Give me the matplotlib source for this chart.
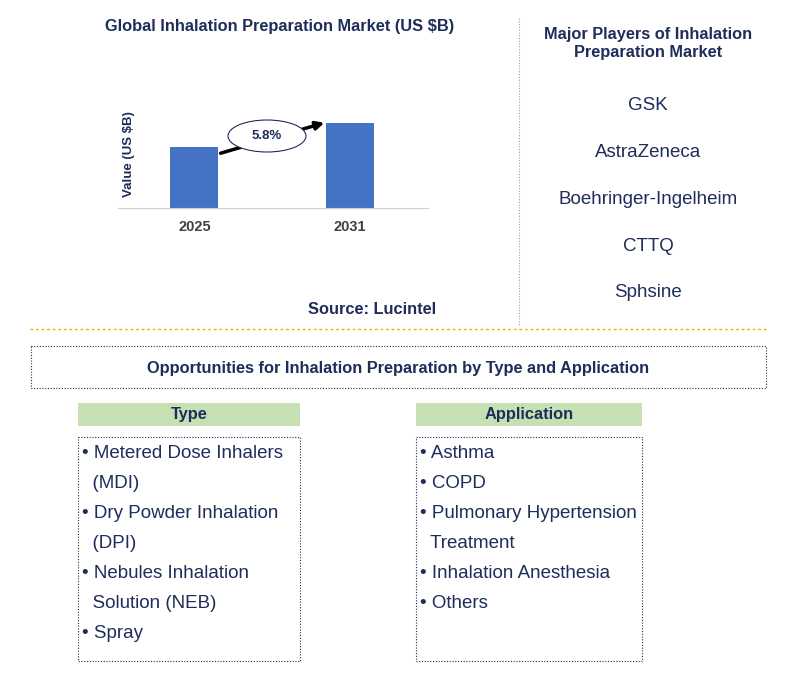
import matplotlib
matplotlib.use("Agg")
import matplotlib.pyplot as plt
from matplotlib.patches import Rectangle, Ellipse

plt.rcParams['font.family'] = 'Liberation Sans'

years = ['2025', '2031']
values = [1.0, 1.4]
cagr = '5.8%'
players = ['GSK', 'AstraZeneca', 'Boehringer-Ingelheim', 'CTTQ', 'Sphsine']
types = ['• Metered Dose Inhalers', '  (MDI)', '• Dry Powder Inhalation', '  (DPI)',
         '• Nebules Inhalation', '  Solution (NEB)', '• Spray']
apps = ['• Asthma', '• COPD', '• Pulmonary Hypertension', '  Treatment',
        '• Inhalation Anesthesia', '• Others']

navy = '#1F2D5A'
W, H = 792, 682
fig = plt.figure(figsize=(7.92, 6.82), dpi=100)

# bar chart
ax = fig.add_axes([118 / W, 1 - 208 / H, 310 / W, 108 / H])
ax.bar([0, 1], values, width=0.31, color='#4472C4')
ax.set_xlim(-0.49, 1.5)
ax.set_ylim(0, 1.4 / 0.79)
ax.set_xticks([0, 1])
ax.set_xticklabels(years, fontsize=10.5, fontweight='bold', color='#404040')
ax.set_yticks([])
for s in ['top', 'right', 'left']:
    ax.spines[s].set_visible(False)
ax.spines['bottom'].set_color('#D0D0D0')
ax.tick_params(axis='x', length=0, pad=9)
ax.set_ylabel('Value (US $B)', fontsize=9.5, fontweight='bold', color=navy, labelpad=-12)

# overlay in pixel coords
ov = fig.add_axes([0, 0, 1, 1])
ov.set_xlim(0, W)
ov.set_ylim(H, 0)
ov.axis('off')
ov.patch.set_alpha(0)
ov.set_zorder(10)

ov.annotate('', xy=(327, 122), xytext=(218, 154),
            arrowprops=dict(arrowstyle='-|>', color='black', lw=2.5, mutation_scale=12))
ov.add_patch(Ellipse((267, 136), 78, 32, facecolor='white', edgecolor=navy, lw=0.8, zorder=5))
ov.text(267, 136, cagr, ha='center', va='center', fontsize=9.5, fontweight='bold', color=navy, zorder=6)

ov.text(280, 27, 'Global Inhalation Preparation Market (US $B)', ha='center', va='center',
        fontsize=11.8, fontweight='bold', color=navy)
ov.text(372, 309, 'Source: Lucintel', ha='center', va='center', fontsize=11.8,
        fontweight='bold', color=navy)

# divider lines
ov.plot([519, 519], [18, 326], color='#A0A0A0', lw=0.8, ls=(0, (1, 1.5)))
ov.plot([30, 766], [329, 329], color='#E6B800', lw=1, ls=(0, (2, 2)))

ov.text(648, 43, 'Major Players of Inhalation\nPreparation Market', ha='center', va='center',
        fontsize=11.8, fontweight='bold', color=navy, linespacing=1.25)
for i, p in enumerate(players):
    ov.text(648, 106 + i * 46.7, p, ha='center', va='center', fontsize=13.5, color=navy)

# opportunities box
ov.add_patch(Rectangle((31, 346), 735, 42, fill=False, edgecolor=navy, lw=0.8, ls=(0, (1, 1.5))))
ov.text(398, 368, 'Opportunities for Inhalation Preparation by Type and Application',
        ha='center', va='center', fontsize=11.8, fontweight='bold', color=navy)

for x0, x1, head, items in [(78, 300, 'Type', types), (416, 642, 'Application', apps)]:
    ov.add_patch(Rectangle((x0, 403), x1 - x0, 23, facecolor='#C6E0B4', edgecolor='none'))
    ov.text((x0 + x1) / 2, 415, head, ha='center', va='center', fontsize=11.8,
            fontweight='bold', color=navy)
    ov.add_patch(Rectangle((x0, 437), x1 - x0, 224, fill=False, edgecolor=navy,
                           lw=0.8, ls=(0, (1, 1.5))))
    for i, t in enumerate(items):
        ov.text(x0 + 4, 453 + i * 30, t, ha='left', va='center', fontsize=13.5, color=navy)

fig.savefig('out.png', dpi=100)
